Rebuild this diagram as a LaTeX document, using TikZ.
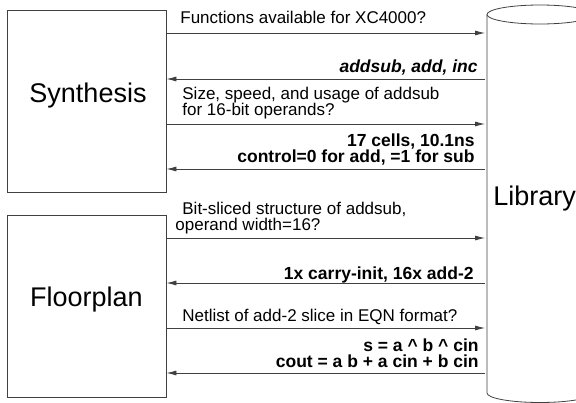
\documentclass[tikz,border=0pt]{standalone}
\usepackage{fontspec}
\setmainfont{Liberation Sans}
\usetikzlibrary{positioning,arrows.meta}
\definecolor{edge}{HTML}{404040}

\begin{document}
\begin{tikzpicture}[x=1pt,y=-1pt,line width=0.8pt,
  blk/.style={draw=edge,minimum width=159pt,minimum height=182pt,inner sep=0pt},
  big/.style={font=\fontsize{27}{30}\selectfont,inner sep=0pt,anchor=base},
  msg/.style={font=\fontsize{17}{16}\selectfont,inner sep=0pt,text depth=0pt},
  ask/.style={msg,anchor=south west,align=left},
  ans/.style={msg,anchor=south east,align=right,font=\fontsize{17.5}{16}\selectfont\bfseries},
  arr/.style={draw=edge,-{Latex[length=10pt,width=5pt]}},
  fwd/.style={arr,shorten >=2pt},
  back/.style={arr,shorten <=2pt}]
  \path[use as bounding box] (0,0) rectangle (576,402);
  \clip (0,0) rectangle (576,402);
  % tools on the left
  \node[blk] (syn) at (86.5,101) {};
  \node[blk,below=23pt of syn] (flo) {};
  \node[big] (syntxt) at (88,102) {Synthesis};
  \node[big] (flotxt) at (86.5,306) {Floorplan};
  % library cylinder
  \node[minimum width=106pt,minimum height=378.5pt,inner sep=0pt,outer sep=0pt] (lib) at (540,203.75) {};
  \draw[edge] (lib.north west) -- (lib.south west) arc[start angle=180,end angle=360,x radius=53pt,y radius=9.5pt] -- (lib.north east);
  \draw[edge] (lib.north) ellipse[x radius=53pt,y radius=9.5pt];
  \node[big,anchor=base west] (libtxt) at (493,205) {Library};
  % queries and answers
  \draw[fwd] (syn.east |- 0,33) -- (lib.west |- 0,33);
  \draw[back] (lib.west |- 0,79) -- (syn.east |- 0,79);
  \draw[fwd] (syn.east |- 0,124) -- (lib.west |- 0,124);
  \draw[back] (lib.west |- 0,169) -- (syn.east |- 0,169);
  \draw[fwd] (flo.east |- 0,238) -- (lib.west |- 0,238);
  \draw[back] (lib.west |- 0,283) -- (flo.east |- 0,283);
  \draw[fwd] (flo.east |- 0,328) -- (lib.west |- 0,328);
  \draw[back] (lib.west |- 0,373) -- (flo.east |- 0,373);
  \node[ask] (q1) at (180,24) {Functions available for XC4000?};
  \node[ans] (a1) at (478,73) {\itshape addsub, add, inc};
  \node[ask] (q2) at (182,116) {Size, speed, and usage of addsub\\for 16-bit operands?};
  \node[ans] (a2) at (475,163) {17 cells, 10.1ns\\control=0 for add, =1 for sub};
  \node[ask] (q3) at (175,231) {\hspace*{7pt}Bit-sliced structure of addsub,\\operand width=16?};
  \node[ans] (a3) at (474,280) {1x carry-init, 16x add-2};
  \node[ask] (q4) at (182,322) {Netlist of add-2 slice in EQN format?};
  \node[ans] (a4) at (479,368) {s = a \textasciicircum{} b \textasciicircum{} cin\\cout = a b + a cin + b cin};
\end{tikzpicture}
\end{document}
